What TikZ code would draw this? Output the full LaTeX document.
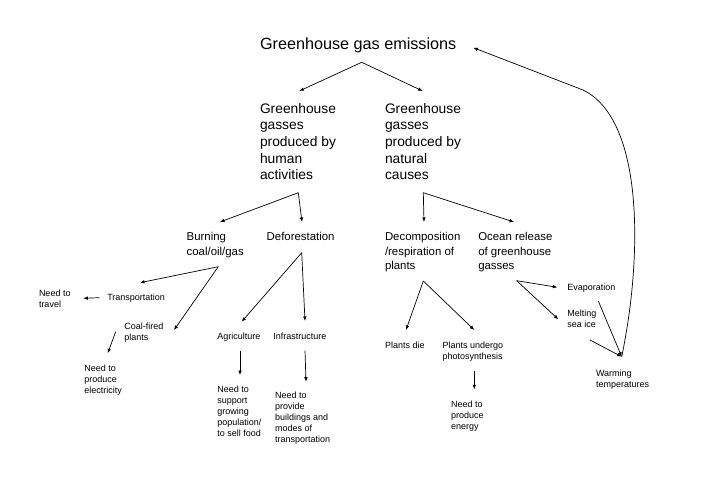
\documentclass[tikz,border=0pt]{standalone}
\usepackage{fontspec}
\setmainfont{Liberation Sans}
\usetikzlibrary{arrows.meta}

\tikzset{
  txt/.style={text=black,anchor=base west,align=left,inner sep=0pt,outer sep=0pt},
  titletxt/.style={txt,font=\fontsize{16.2}{19}\selectfont},
  bigtxt/.style={txt,font=\fontsize{13.8}{16.7}\selectfont},
  midtxt/.style={txt,font=\fontsize{11.4}{14.3}\selectfont},
  smalltxt/.style={txt,font=\fontsize{9}{11}\selectfont},
  link/.style={draw=black,line width=0.7pt,-{Latex[length=4.5pt,width=3.6pt]}}
}

\begin{document}
\begin{tikzpicture}[x=1pt,y=1pt]
\definecolor{fillColor}{RGB}{255,255,255}
\path[use as bounding box,fill=fillColor] (0,0) rectangle (717,480);

% texts (base = baseline of the last line)
\node[titletxt] (ghg) at (260,430) {Greenhouse gas emissions};
\node[bigtxt] (human) at (260,300) {Greenhouse\\gasses\\produced by\\human\\activities};
\node[bigtxt] (natural) at (385,300) {Greenhouse\\gasses\\produced by\\natural\\causes};

\node[midtxt] (burn) at (186.7,225) {Burning\\coal/oil/gas};
\node[midtxt] (defor) at (266.7,239.3) {Deforestation};
\node[midtxt] (decomp) at (385,210.7) {Decomposition\\/respiration of\\plants};
\node[midtxt] (ocean) at (478.3,210.7) {Ocean release\\of greenhouse\\gasses};

\node[smalltxt] (transp) at (107.3,180) {Transportation};
\node[smalltxt] (travel) at (39,172.7) {Need to\\travel};
\node[smalltxt] (coal) at (124.3,140) {Coal-fired\\plants};
\node[smalltxt] (elec) at (84.3,86.7) {Need to\\produce\\electricity};
\node[smalltxt] (agri) at (217.3,140.7) {Agriculture};
\node[smalltxt] (infra) at (273.3,140.7) {Infrastructure};
\node[smalltxt] (food) at (217.3,43.3) {Need to\\support\\growing\\population/\\to sell food};
\node[smalltxt] (build) at (275,37.3) {Need to\\provide\\buildings and\\modes of\\transportation};
\node[smalltxt] (die) at (385,131.7) {Plants die};
\node[smalltxt] (photo) at (442.7,121) {Plants undergo\\photosynthesis};
\node[smalltxt] (energy) at (451,51) {Need to\\produce\\energy};
\node[smalltxt] (evap) at (567.3,190) {Evaporation};
\node[smalltxt] (melt) at (567.3,152.3) {Melting\\sea ice};
\node[smalltxt] (warm) at (596,92.3) {Warming\\temperatures};

% connector ends
\coordinate (ghg-fork) at (361.7,417.7);
\coordinate (ghg-l) at (299.3,389);
\coordinate (ghg-r) at (422.7,389);
\coordinate (ghg-back) at (473.3,432.3);

\coordinate (human-fork) at (298.3,287.3);
\coordinate (human-l) at (220,258);
\coordinate (human-r) at (302,258);
\coordinate (natural-fork) at (423.3,287.3);
\coordinate (natural-l) at (424,258);
\coordinate (natural-r) at (514,258);

\coordinate (burn-fork) at (218.3,213.3);
\coordinate (burn-l) at (140,197.3);
\coordinate (burn-r) at (174,150);
\coordinate (transp-out) at (99.3,182.3);
\coordinate (transp-in) at (83.3,181.7);
\coordinate (coal-out) at (115.7,148.3);
\coordinate (coal-in) at (107.7,126.7);

\coordinate (defor-fork) at (301.7,227.3);
\coordinate (defor-l) at (241.7,158.3);
\coordinate (defor-r) at (305,159);
\coordinate (agri-out) at (240,129.3);
\coordinate (agri-in) at (240,105);
\coordinate (infra-out) at (305,129.3);
\coordinate (infra-in) at (306,98.3);

\coordinate (decomp-fork) at (423.3,199);
\coordinate (decomp-l) at (406,150);
\coordinate (decomp-r) at (474.3,150);
\coordinate (photo-out) at (474.3,109.3);
\coordinate (photo-in) at (474.3,90.7);

\coordinate (ocean-fork) at (516.7,199.3);
\coordinate (ocean-l) at (557.3,192.7);
\coordinate (ocean-r) at (558.3,160.7);
\coordinate (evap-out) at (598.3,179);
\coordinate (melt-out) at (590,140);
\coordinate (warm-in) at (621.7,123.3);
\coordinate (loop-bend) at (583,390);

% arrows
\draw[link] (ghg-fork) -- (ghg-l);
\draw[link] (ghg-fork) -- (ghg-r);

\draw[link] (human-fork) -- (human-l);
\draw[link] (human-fork) -- (human-r);
\draw[link] (natural-fork) -- (natural-l);
\draw[link] (natural-fork) -- (natural-r);

\draw[link] (burn-fork) -- (burn-l);
\draw[link] (burn-fork) -- (burn-r);
\draw[link] (transp-out) -- (transp-in);
\draw[link] (coal-out) -- (coal-in);

\draw[link] (defor-fork) -- (defor-l);
\draw[link] (defor-fork) -- (defor-r);
\draw[link] (agri-out) -- (agri-in);
\draw[link] (infra-out) -- (infra-in);

\draw[link] (decomp-fork) -- (decomp-l);
\draw[link] (decomp-fork) -- (decomp-r);
\draw[link] (photo-out) -- (photo-in);

\draw[link] (ocean-fork) -- (ocean-l);
\draw[link] (ocean-fork) -- (ocean-r);
\draw[link] (evap-out) -- (warm-in);
\draw[link] (melt-out) -- (warm-in);

\draw[link] (warm-in) .. controls (642,220) and (645,360) .. (loop-bend) -- (ghg-back);
\end{tikzpicture}
\end{document}
